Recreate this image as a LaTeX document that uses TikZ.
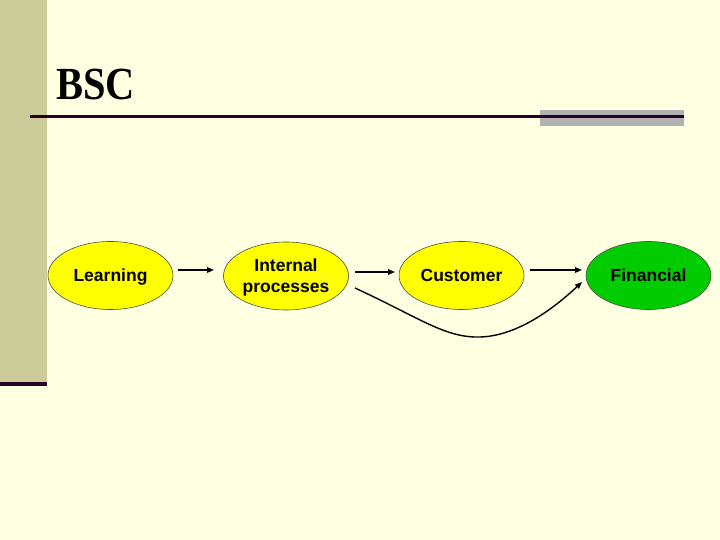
\documentclass[tikz,border=0pt]{standalone}
\usepackage{fontspec}
\setmainfont{Liberation Serif}
\newfontfamily\arialfont{Liberation Sans}
\usetikzlibrary{shapes.geometric,arrows.meta}
\definecolor{bgcol}{RGB}{255,255,225}
\definecolor{barcol}{RGB}{204,204,153}
\definecolor{darkline}{RGB}{40,0,40}
\definecolor{graybar}{RGB}{178,178,178}
\definecolor{yell}{RGB}{255,255,0}
\definecolor{grn}{RGB}{0,204,0}
\tikzset{
  oval/.style={ellipse, draw=black!70, line width=0.6pt, minimum width=125pt, minimum height=68pt, inner sep=0pt, align=center, text depth=0pt, font=\arialfont\bfseries\fontsize{17.5}{21}\selectfont},
  conn/.style={-{Triangle[length=7pt,width=5.5pt]}, line width=1.4pt, black}
}
\begin{document}
\begin{tikzpicture}[x=1pt,y=-1pt]
\useasboundingbox (0,0) rectangle (720,540);
\fill[bgcol] (0,0) rectangle (720,540);
\fill[barcol] (0,0) rectangle (47,382);
\fill[darkline] (0,382) rectangle (47,386);
\fill[graybar] (540,110) rectangle (684,126);
\fill[darkline] (30,115.5) rectangle (684,118.5);
\node[anchor=base west, inner sep=0pt, font=\bfseries\fontsize{46}{50}\selectfont, xscale=0.88] (title) at (56,100) {BSC};
\node[oval, fill=yell] (learn) at (110.5,275.5) {Learning};
\node[oval, fill=yell] (ip) at (286,276) {Internal\\processes};
\node[oval, fill=yell] (cust) at (461.5,275.5) {Customer};
\node[oval, fill=grn] (fin) at (648.5,275.5) {Financial};
\draw[conn] (178,270) coordinate (a1) -- (214,270) coordinate (a2);
\draw[conn] (355,272) coordinate (b1) -- (395,272) coordinate (b2);
\draw[conn] (530,270) coordinate (c1) -- (582,270) coordinate (c2);
\coordinate (d1) at (355,288);
\coordinate (dm) at (480,337);
\coordinate (d2) at (582,282);
\draw[conn] (d1) .. controls (420,318) and (445,338) .. (dm) .. controls (515,336) and (550,312) .. (d2);
\end{tikzpicture}
\end{document}
